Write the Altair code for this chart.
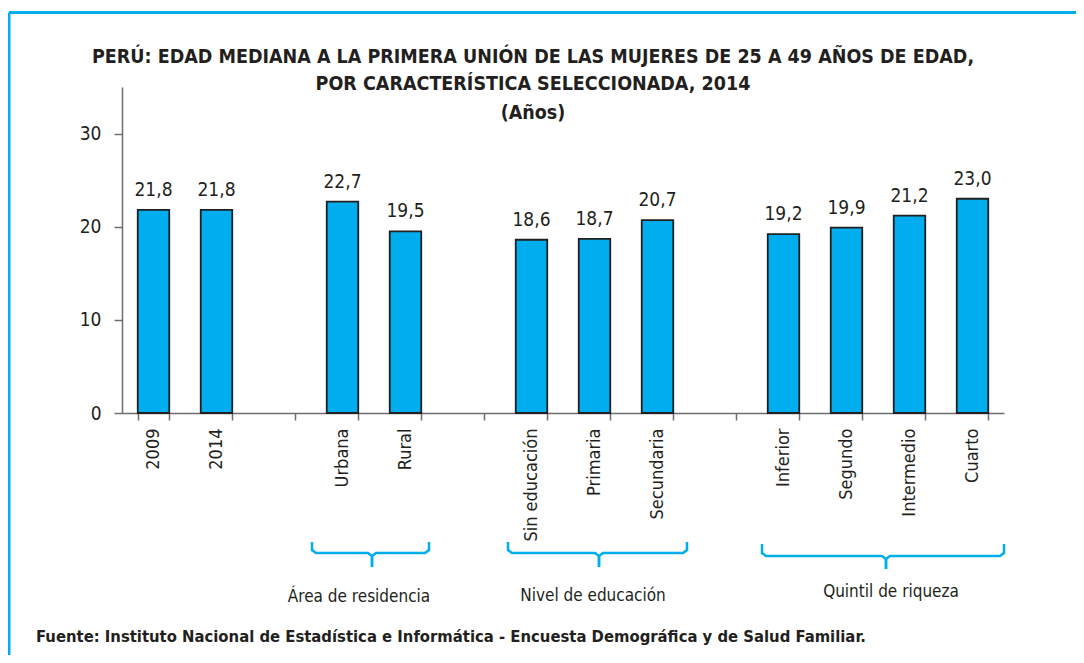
import altair as alt
import pandas as pd

# ---- data ----
categories = ["2009", "2014", "gap1", "Urbana", "Rural", "gap2",
              "Sin educación", "Primaria", "Secundaria", "gap3",
              "Inferior", "Segundo", "Intermedio", "Cuarto"]
values = [21.8, 21.8, None, 22.7, 19.5, None, 18.6, 18.7, 20.7, None,
          19.2, 19.9, 21.2, 23.0]
group_names = ["Área de residencia", "Nivel de educación", "Quintil de riqueza"]
title_lines = ["PERÚ: EDAD MEDIANA A LA PRIMERA UNIÓN DE LAS MUJERES DE 25 A 49 AÑOS DE EDAD,",
               "POR CARACTERÍSTICA SELECCIONADA, 2014",
               "(Años)"]
source_note = "Fuente: Instituto Nacional de Estadística e Informática - Encuesta Demográfica y de  Salud Familiar."

FONT = "DejaVu Sans Condensed, Liberation Sans Narrow, sans-serif"
BLUE = "#00AEEF"
DARK = "#231F20"
GRAY = "#6D6E71"

# plot area origin in page coordinates
OX, OY = 122, 87
W, H = 882, 326

df = pd.DataFrame({"cat": categories, "val": values})
df["lab"] = [("" if v is None or pd.isna(v) else f"{v:.1f}".replace(".", ",")) for v in values]
bars_df = df.dropna(subset=["val"])

xenc = alt.X("cat:N", sort=categories,
             scale=alt.Scale(domain=categories, paddingInner=0.5, paddingOuter=0.25),
             axis=alt.Axis(title=None, labelAngle=-90, labelFont=FONT, labelFontSize=18,
                           labelColor=DARK, labelPadding=8, tickSize=7, tickBand="extent",
                           domainColor=GRAY, tickColor=GRAY, domainWidth=1.5, tickWidth=1.5,
                           labelExpr="indexof(datum.label,'gap')==0 ? '' : datum.label"))
yenc = alt.Y("val:Q", scale=alt.Scale(domain=[0, 35]),
             axis=alt.Axis(title=None, values=[0, 10, 20, 30], grid=False, labelFont=FONT,
                           labelFontSize=19, labelColor=DARK, labelPadding=13, tickSize=8,
                           domainColor=GRAY, tickColor=GRAY, domainWidth=1.5, tickWidth=1.5))

base = alt.Chart(bars_df)
bars = base.mark_bar(color=BLUE, stroke=DARK, strokeWidth=1.8).encode(x=xenc, y=yenc)
labels = base.mark_text(font=FONT, fontSize=19, color=DARK, baseline="alphabetic", dy=-14).encode(
    x=alt.X("cat:N", sort=categories), y="val:Q", text="lab:N")

# ---- braces (decoration, page pixel geometry) ----
brace_geo = [  # x0, x1, xc, ytop, yh, ytip
    (312, 429, 372, 542, 553, 567),
    (508, 687, 599, 542, 553, 567),
    (762, 1004, 886, 544, 556, 569),
]
rows = []
for gi, (x0, x1, xc, yt, yh, ytp) in enumerate(brace_geo):
    for side, xe, s in (("L", x0, 1), ("R", x1, -1)):
        pts = [(xe, yt), (xe, yh - 3), (xe + 4 * s, yh), (xc - 4 * s, yh), (xc, yh + 3), (xc, ytp)]
        for k, (px, py) in enumerate(pts):
            rows.append({"g": f"{gi}{side}", "k": k, "px": px - OX, "py": py - OY})
brace_df = pd.DataFrame(rows)
braces = alt.Chart(brace_df).mark_line(color=BLUE, strokeWidth=2.5).encode(
    x=alt.X("px:Q", scale=None, axis=None), y=alt.Y("py:Q", scale=None, axis=None),
    detail="g:N", order="k:Q")

gl_pos = [(359, 597), (593, 596), (891, 592)]
glabel_df = pd.DataFrame({"name": group_names,
                          "px": [p[0] - OX for p in gl_pos],
                          "py": [p[1] - OY for p in gl_pos]})
glabels = alt.Chart(glabel_df).mark_text(font=FONT, fontSize=17, color=DARK, baseline="middle").encode(
    x=alt.X("px:Q", scale=None, axis=None), y=alt.Y("py:Q", scale=None, axis=None), text="name:N")

# ---- titles ----
title_pos = [(533, 57), (533, 84), (533, 113)]
title_layers = []
for t, (tx, ty) in zip(title_lines, title_pos):
    title_layers.append(
        alt.Chart(pd.DataFrame({"t": [t]})).mark_text(
            font=FONT, fontSize=19.5, fontWeight="bold", color=DARK, baseline="middle", align="center"
        ).encode(x=alt.value(tx - OX), y=alt.value(ty - OY), text="t:N"))

footer = alt.Chart(pd.DataFrame({"t": [source_note]})).mark_text(
    font=FONT, fontSize=16.5, fontWeight="bold", color=DARK, baseline="middle", align="left"
).encode(x=alt.value(36 - OX), y=alt.value(637 - OY), text="t:N")

# ---- frame (left and top border lines) ----
frame_top = alt.Chart(pd.DataFrame({"a": [0]})).mark_rule(color=BLUE, strokeWidth=3).encode(
    x=alt.value(9 - OX), x2=alt.value(1100 - OX), y=alt.value(12.5 - OY))
frame_left = alt.Chart(pd.DataFrame({"a": [0]})).mark_rule(color=BLUE, strokeWidth=3).encode(
    x=alt.value(9 - OX), y=alt.value(12.5 - OY), y2=alt.value(700 - OY))

chart = alt.layer(frame_top, frame_left, bars, labels, braces, glabels, *title_layers, footer).properties(
    width=W, height=H,
    background="white",
    autosize=alt.AutoSizeParams(type="none"),
    padding={"left": OX - 8, "top": OY - 8, "right": 1068 - (OX - 8) - W, "bottom": 647 - (OY - 8) - H},
).configure_view(stroke=None)

chart.save("out.html", embed_options={"renderer": "svg", "actions": False})
